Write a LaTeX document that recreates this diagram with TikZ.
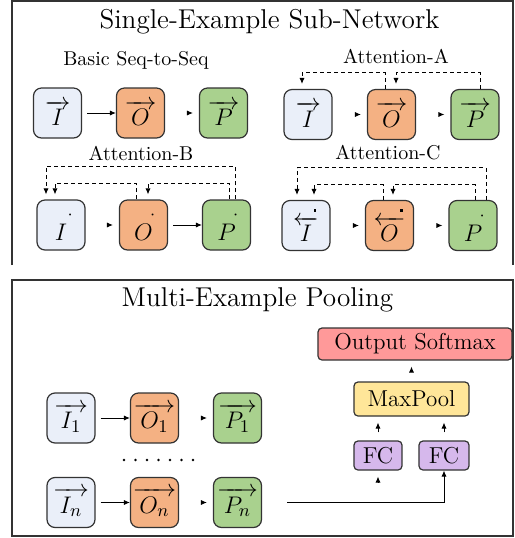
\documentclass[tikz,border=0pt]{standalone}
\usepackage{amsmath}
\usetikzlibrary{arrows.meta,calc}
\definecolor{inblue}{RGB}{234,239,249}
\definecolor{outorange}{RGB}{244,177,131}
\definecolor{predgreen}{RGB}{169,209,142}
\definecolor{softred}{RGB}{255,153,153}
\definecolor{poolyellow}{RGB}{255,230,153}
\definecolor{fcpurple}{RGB}{214,184,236}
\newcommand{\rv}[1]{\overrightarrow{\mkern5mu#1\mkern5mu}}
\newcommand{\dv}[1]{\overset{\mkern18mu\cdot}{#1}}
\newcommand{\lv}[1]{\overleftarrow{\mkern5mu#1\mkern5mu}\rlap{\kern-2.5pt\raisebox{15pt}{\rule{1.3pt}{1.3pt}}}}
\tikzset{
  box/.style={draw=black!80,line width=0.6pt,rounded corners=4pt,minimum width=24pt,minimum height=25pt,inner sep=0pt,font=\fontsize{13}{15}\selectfont},
  inp/.style={box,fill=inblue},
  outp/.style={box,fill=outorange},
  pred/.style={box,fill=predgreen},
  blk/.style={draw=black!80,line width=0.6pt,rounded corners=2pt,inner sep=0pt,minimum height=16pt,font=\fontsize{11.5}{13}\selectfont},
  head/.style={font=\fontsize{13.6}{15}\selectfont},
  lbl/.style={font=\fontsize{10}{12}\selectfont},
  link/.style={-{Latex[length=3pt,width=2.6pt]},line width=0.45pt,shorten <=2.5pt},
  stub/.style={-{Latex[length=3pt,width=2.6pt]},line width=0.45pt,shorten <=#1,shorten >=3pt},
  attn/.style={-{Latex[length=3pt,width=2.6pt]},line width=0.45pt,dash pattern=on 2pt off 1.5pt,shorten >=2.5pt},
  frame/.style={line width=0.6pt,draw=black!80}
}
\begin{document}
\begin{tikzpicture}[x=0.5pt,y=-0.5pt]
\useasboundingbox (0,0) rectangle (515,538);
\draw[frame] (12,265) -- (12,1) -- (513,1) -- (513,265);
\draw[frame] (12,280) rectangle (513,536);

\node[head] (single) at (269.5,22) {Single-Example Sub-Network};
\node[lbl] (basic) at (136,60) {Basic Seq-to-Seq};
\node[inp] (Ib) at (57.5,113) {$\rv{I}$};
\node[outp] (Ob) at (140.5,113) {$\rv{O}$};
\node[pred] (Pb) at (223.5,113) {$\rv{P}$};
\draw[link] (Ib) -- (Ob);
\draw[stub=11.5pt] (Ob) -- (Pb);

\node[lbl] (attA) at (396,56) {Attention-A};
\node[inp] (Ia) at (308,114.5) {$\rv{I}$};
\node[outp] (Oa) at (391.5,114.5) {$\rv{O}$};
\node[pred] (Pa) at (475,114.5) {$\rv{P}$};
\draw[stub=11.5pt] (Ia) -- (Oa);
\draw[stub=11.5pt] (Oa) -- (Pa);
\draw[attn] ([xshift=-3.25pt]Oa.north) -- ++(0,8pt) -| ([xshift=-3pt]Ia.north);
\draw[attn] ([xshift=2.5pt]Pa.north) -- ++(0,8pt) -| ([xshift=2.25pt]Oa.north);

\node[lbl] (attB) at (141,153) {Attention-B};
\node[inp] (IB) at (61,225) {$\dv{I}$};
\node[outp] (OB) at (143.5,225) {$\dv{O}$};
\node[pred] (PB) at (226.5,225) {$\dv{P}$};
\draw[stub=11.5pt] (IB) -- (OB);
\draw[link] (OB) -- (PB);
\draw[attn] ([xshift=4.25pt]PB.north) -- ++(0,16.5pt) -| ([xshift=-7.5pt]IB.north);
\draw[attn] ([xshift=1.25pt]PB.north) -- ++(0,8pt) -| ([xshift=2.25pt]OB.north);
\draw[attn] ([xshift=-3.75pt]OB.north) -- ++(0,8pt) -| ([xshift=-3pt]IB.north);

\node[lbl] (attC) at (388,153) {Attention-C};
\node[inp] (IC) at (306,225.5) {$\lv{I}$};
\node[outp] (OC) at (389.5,225.5) {$\lv{O}$};
\node[pred] (PC) at (473,225.5) {$\dv{P}$};
\draw[stub=11.5pt] (IC) -- (OC);
\draw[stub=11.5pt] (OC) -- (PC);
\draw[attn] ([xshift=6.5pt]PC.north) -- ++(0,16pt) -| ([xshift=-4.5pt]IC.north);
\draw[attn] ([xshift=1pt]PC.north) -- ++(0,7.5pt) -| ([xshift=1.75pt]OC.north);
\draw[attn] ([xshift=-3.25pt]OC.north) -- ++(0,7.5pt) -| ([xshift=4pt]IC.north);

\node[head] (multi) at (257.5,300) {Multi-Example Pooling};
\node[inp] (I1) at (71,418) {$\rv{I_1}$};
\node[outp] (O1) at (154.5,418) {$\rv{O_1}$};
\node[pred] (P1) at (237.5,418) {$\rv{P_1}$};
\node[inp] (In) at (71,502.5) {$\rv{I_n}$};
\node[outp] (On) at (154.5,502.5) {$\rv{O_n}$};
\node[pred] (Pn) at (237.5,502.5) {$\rv{P_n}$};
\draw[link] (I1) -- (O1);
\draw[stub=11.5pt] (O1) -- (P1);
\draw[link] (In) -- (On);
\draw[stub=11.5pt] (On) -- (Pn);
\foreach \k in {0,...,6} \fill (124+\k*11.5,460) circle (0.7pt);

\node[blk,fill=softred,minimum width=97pt] (soft) at (415,344) {Output Softmax};
\node[blk,fill=poolyellow,minimum width=57.5pt,minimum height=17pt] (pool) at (411.5,399) {MaxPool};
\node[blk,fill=fcpurple,minimum width=24pt,minimum height=14.5pt] (fcA) at (378,455.5) {FC};
\node[blk,fill=fcpurple,minimum width=25pt,minimum height=14.5pt] (fcB) at (444,455.5) {FC};
\coordinate (fcsrc) at (378,482);
\draw[stub=5.5pt] (pool) -- (pool |- soft.south);
\draw[link,shorten <=4pt,shorten >=3pt] (fcA) -- (fcA |- pool.south);
\draw[link,shorten <=4pt,shorten >=3pt] (fcB) -- (fcB |- pool.south);
\draw[stub=0pt] (fcsrc) -- (fcA);
\draw[link,shorten <=12.5pt] (Pn) -| (fcB);
\end{tikzpicture}
\end{document}
